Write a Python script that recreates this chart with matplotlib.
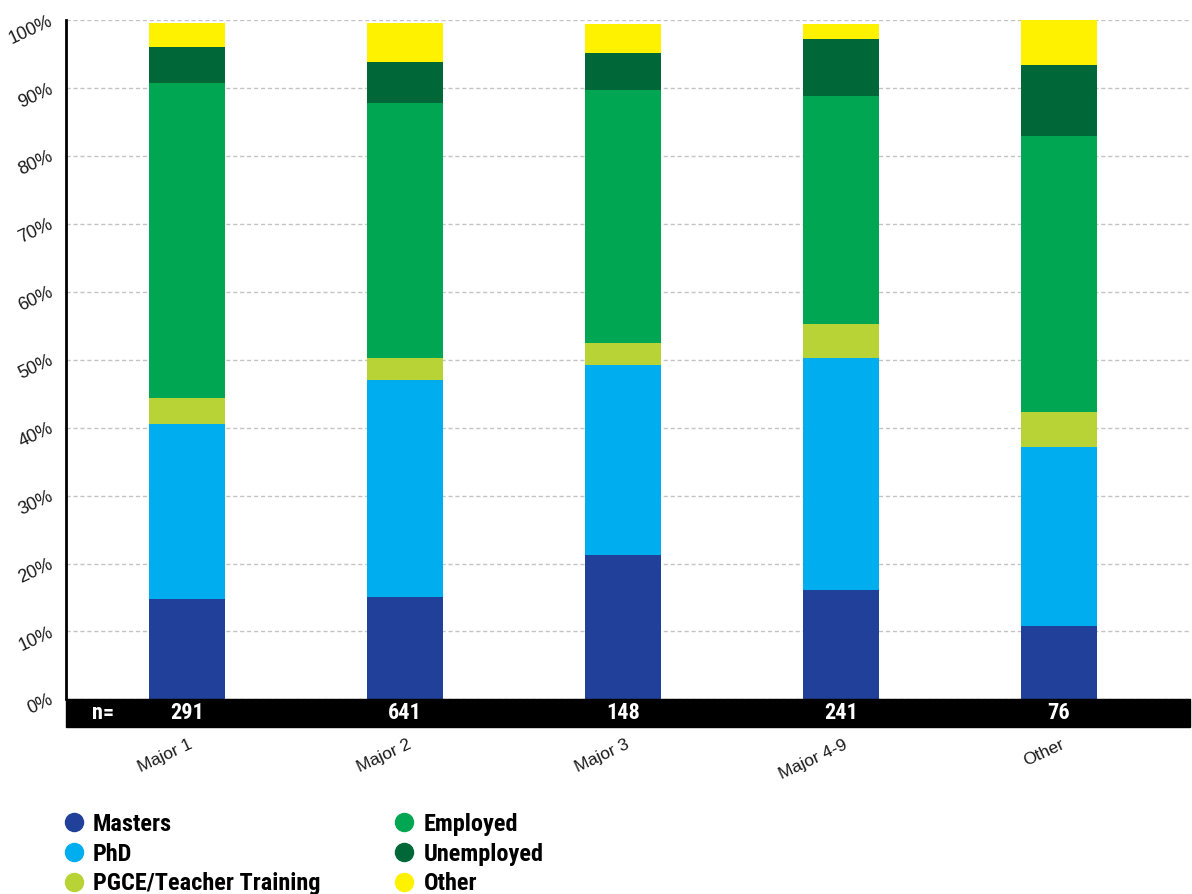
import numpy as np
import matplotlib
matplotlib.use('Agg')
import matplotlib.pyplot as plt
from matplotlib.lines import Line2D
from matplotlib.patches import Rectangle
from matplotlib.transforms import blended_transform_factory, ScaledTranslation
from matplotlib.font_manager import FontProperties

plt.rcParams['font.family'] = ['Liberation Sans', 'DejaVu Sans']

# Категории и размеры выборок
majors = ['Major 1', 'Major 2', 'Major 3', 'Major 4-9', 'Other']
counts = [291, 641, 148, 241, 76]

# Доли выпускников (%) по направлениям
masters = [14.7, 15.1, 21.2, 16.1, 10.8]
phd = [25.9, 31.9, 28.0, 34.2, 26.4]
pgce = [3.8, 3.2, 3.3, 5.0, 5.1]
employed = [46.35, 37.6, 37.2, 33.5, 40.6]
unemployed = [5.25, 6.1, 5.5, 8.4, 10.5]
other = [3.6, 5.7, 4.2, 2.2, 6.6]

series = [masters, phd, pgce, employed, unemployed, other]
names = ['Masters', 'PhD', 'PGCE/Teacher Training', 'Employed', 'Unemployed', 'Other']
colors = ['#20409A', '#00AEEF', '#B8D335', '#00A651', '#006838', '#FFF200']

W, H = 1192, 894
fig = plt.figure(figsize=(W / 100, H / 100), dpi=100)
ax = fig.add_axes([66 / W, 1 - 699.3 / H, (1190 - 66) / W, (699.3 - 20.3) / H])

x = np.arange(len(majors))
bottom = np.zeros(len(majors))
for vals, col in zip(series, colors):
    ax.bar(x, vals, width=0.349, bottom=bottom, color=col, zorder=2)
    bottom += np.array(vals)

ax.set_xlim(-0.555, 4.601)
ax.set_ylim(0, 100)

# Сетка пунктиром
ax.yaxis.grid(True, linestyle=(0, (3, 2)), color='#C4C4C4', linewidth=1)
ax.set_axisbelow(True)

for side in ['top', 'right', 'bottom']:
    ax.spines[side].set_visible(False)
ax.spines['left'].set_linewidth(2)
ax.spines['left'].set_color('black')

# Подписи оси Y
ax.set_yticks(np.arange(0, 101, 10))
ax.set_yticklabels([f'{v}%' for v in range(0, 101, 10)])
ax.tick_params(axis='y', length=0, pad=10, labelsize=13, labelcolor='#1a1a1a')
for lab in ax.get_yticklabels():
    lab.set_rotation(25)
    lab.set_ha('right')
    lab.set_va('center')
    lab.set_rotation_mode('anchor')

# Подписи оси X
ax.set_xticks(x)
ax.set_xticklabels(majors)
ax.tick_params(axis='x', length=0, pad=32, labelsize=12.5, labelcolor='#1a1a1a')
shift = ScaledTranslation(5 / 100, 0, fig.dpi_scale_trans)
for lab in ax.get_xticklabels():
    lab.set_rotation(25)
    lab.set_ha('right')
    lab.set_va('center')
    lab.set_rotation_mode('anchor')
    lab.set_transform(lab.get_transform() + shift)

# Чёрная полоса с размерами выборок
band_h = 28 / 679
ax.add_patch(Rectangle((0, -band_h), 1, band_h, transform=ax.transAxes,
                       color='black', clip_on=False, zorder=3))
cond = ['Roboto Condensed', 'Roboto', 'DejaVu Sans']
bold_font = FontProperties(family=cond, weight='bold', stretch='condensed')
ax.text(0.033, -band_h / 2, 'n=', transform=ax.transAxes, color='white',
        ha='center', va='center', fontproperties=bold_font, fontsize=16, zorder=4)
trans = blended_transform_factory(ax.transData, ax.transAxes)
for xi, n in zip(x, counts):
    ax.text(xi, -band_h / 2, str(n), transform=trans, color='white',
            ha='center', va='center', fontproperties=bold_font, fontsize=16, zorder=4)

# Легенда
handles = [Line2D([], [], linestyle='none', marker='o', markersize=13,
                  markerfacecolor=c, markeredgecolor=c) for c in colors]
leg_font = FontProperties(family=cond, weight='bold', stretch='condensed', size=17.5)
fig.legend(handles, names, loc='upper left', bbox_to_anchor=(61.5 / W, 1 - 813 / H),
           ncol=2, frameon=False, prop=leg_font, handlelength=1, handletextpad=0.3,
           columnspacing=2.95, labelspacing=0.27, borderpad=0, borderaxespad=0)

fig.savefig('out.png', dpi=100)
